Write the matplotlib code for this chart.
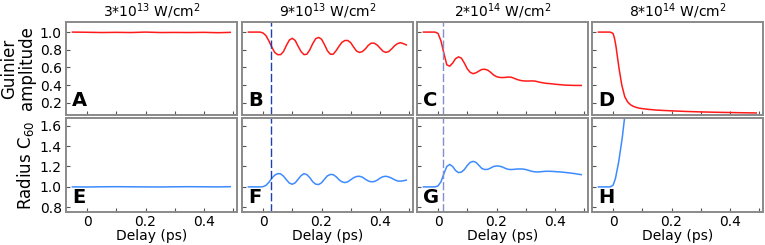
import matplotlib.pyplot as plt

# ---- data ----
titles = ['3*10$^{13}$ W/cm$^{2}$', '9*10$^{13}$ W/cm$^{2}$',
          '2*10$^{14}$ W/cm$^{2}$', '8*10$^{14}$ W/cm$^{2}$']
letters_top = ['A', 'B', 'C', 'D']
letters_bot = ['E', 'F', 'G', 'H']

# sparse delay grid for the flat 3e13 panel
delay_flat = [-0.05, 0.0, 0.05, 0.10, 0.15, 0.20, 0.25, 0.30, 0.35, 0.40, 0.45, 0.49]
guinier_A = [1.0, 0.998, 0.995, 0.997, 0.995, 1.0, 0.995, 0.996, 0.995, 0.997, 0.993, 0.997]
radius_E = [1.0, 0.999, 1.001, 1.002, 1.001, 1.0, 0.999, 1.001, 1.002, 1.001, 1.0, 1.002]

# dense delay grid (10 fs steps) for the oscillating panels
delay = [-0.05, -0.04, -0.03, -0.02, -0.01, 0.00, 0.01, 0.02, 0.03, 0.04,
         0.05, 0.06, 0.07, 0.08, 0.09, 0.10, 0.11, 0.12, 0.13, 0.14,
         0.15, 0.16, 0.17, 0.18, 0.19, 0.20, 0.21, 0.22, 0.23, 0.24,
         0.25, 0.26, 0.27, 0.28, 0.29, 0.30, 0.31, 0.32, 0.33, 0.34,
         0.35, 0.36, 0.37, 0.38, 0.39, 0.40, 0.41, 0.42, 0.43, 0.44,
         0.45, 0.46, 0.47, 0.48, 0.49]

guinier_B = [1.0, 1.0, 1.0, 1.0, 1.0, 0.99, 0.96, 0.90, 0.83, 0.77,
             0.745, 0.745, 0.78, 0.85, 0.91, 0.93, 0.905, 0.84, 0.78, 0.745,
             0.75, 0.80, 0.87, 0.925, 0.94, 0.92, 0.86, 0.79, 0.75, 0.75,
             0.79, 0.84, 0.885, 0.905, 0.905, 0.88, 0.83, 0.785, 0.77, 0.78,
             0.81, 0.85, 0.875, 0.875, 0.855, 0.82, 0.785, 0.77, 0.78, 0.81,
             0.845, 0.87, 0.88, 0.87, 0.855]

radius_F = [1.0, 1.0, 1.0, 1.0, 1.0, 1.002, 1.015, 1.045, 1.085, 1.115,
            1.13, 1.128, 1.105, 1.07, 1.037, 1.026, 1.04, 1.075, 1.11, 1.13,
            1.12, 1.09, 1.05, 1.027, 1.023, 1.04, 1.075, 1.108, 1.122, 1.12,
            1.10, 1.07, 1.05, 1.042, 1.05, 1.07, 1.09, 1.102, 1.104, 1.095,
            1.075, 1.058, 1.05, 1.052, 1.065, 1.085, 1.10, 1.104, 1.098, 1.085,
            1.07, 1.058, 1.056, 1.06, 1.066]

guinier_C = [1.0, 1.0, 1.0, 1.0, 1.0, 0.985, 0.90, 0.76, 0.63, 0.615,
             0.65, 0.70, 0.72, 0.705, 0.65, 0.585, 0.545, 0.53, 0.54, 0.56,
             0.578, 0.58, 0.57, 0.545, 0.515, 0.497, 0.488, 0.486, 0.488, 0.492,
             0.49, 0.478, 0.465, 0.455, 0.449, 0.447, 0.447, 0.448, 0.447, 0.44,
             0.432, 0.426, 0.421, 0.418, 0.415, 0.411, 0.408, 0.405, 0.402, 0.40,
             0.399, 0.398, 0.397, 0.397, 0.397]

radius_G = [1.0, 1.0, 1.0, 1.0, 1.0, 1.01, 1.05, 1.13, 1.20, 1.22,
            1.20, 1.16, 1.14, 1.145, 1.17, 1.21, 1.24, 1.25, 1.24, 1.21,
            1.18, 1.17, 1.172, 1.185, 1.20, 1.205, 1.203, 1.195, 1.182, 1.172,
            1.17, 1.172, 1.175, 1.176, 1.175, 1.17, 1.162, 1.153, 1.148, 1.146,
            1.148, 1.151, 1.153, 1.153, 1.152, 1.15, 1.148, 1.146, 1.143, 1.14,
            1.137, 1.133, 1.129, 1.124, 1.12]

# 8e14 panels
delay_D = [-0.05, -0.03, -0.01, 0.0, 0.005, 0.01, 0.02, 0.03, 0.04, 0.05,
           0.06, 0.07, 0.08, 0.09, 0.10, 0.12, 0.15, 0.20, 0.25, 0.30,
           0.35, 0.40, 0.45, 0.49]
guinier_D = [1.0, 1.0, 1.0, 0.985, 0.93, 0.84, 0.60, 0.40, 0.27, 0.21,
             0.178, 0.16, 0.148, 0.14, 0.135, 0.127, 0.118, 0.11, 0.103, 0.098,
             0.094, 0.091, 0.088, 0.086]
delay_H = [-0.05, -0.03, -0.01, 0.0, 0.008, 0.019, 0.031, 0.039, 0.05]
radius_H = [1.0, 1.0, 1.0, 1.016, 1.08, 1.24, 1.47, 1.665, 1.93]

# pump arrival markers (dashed lines)
t0_B = 0.026
t0_C = 0.017

# ---- figure ----
plt.rcParams['font.family'] = 'DejaVu Sans'
fig = plt.figure(figsize=(7.65, 2.45), dpi=100)

W, H = 765.0, 245.0
lefts = [66, 242, 417, 592]
width = 171
top_row = (22, 115)
bot_row = (118, 212)

red = '#ff1a1a'
blue = '#3d8bff'
frame = '#8a8a8a'


def make_ax(left, rows):
    y0, y1 = rows
    ax = fig.add_axes([left / W, 1 - y1 / H, width / W, (y1 - y0) / H])
    for s in ax.spines.values():
        s.set_color(frame)
        s.set_linewidth(1.4)
    ax.tick_params(direction='in', length=3, width=0.8, color='#555555',
                   labelsize=10, pad=3)
    ax.tick_params(axis='x', pad=2)
    ax.set_xlim(-0.072, 0.513)
    ax.set_xticks([0, 0.1, 0.2, 0.3, 0.4, 0.5])
    ax.set_xticklabels(['0', '', '0.2', '', '0.4', ''])
    return ax


top_data = [(delay_flat, guinier_A), (delay, guinier_B), (delay, guinier_C), (delay_D, guinier_D)]
bot_data = [(delay_flat, radius_E), (delay, radius_F), (delay, radius_G), (delay_H, radius_H)]

for i in range(4):
    ax = make_ax(lefts[i], top_row)
    ax.plot(top_data[i][0], top_data[i][1], color=red, lw=1.1)
    ax.set_ylim(0.063, 1.114)
    ax.set_yticks([0.2, 0.4, 0.6, 0.8, 1.0])
    ax.set_xticklabels([])
    if i > 0:
        ax.set_yticklabels([])
    ax.set_title(titles[i], fontsize=10, pad=4)
    ax.text(0.035, 0.05, letters_top[i], transform=ax.transAxes,
            fontsize=14, fontweight='bold', ha='left', va='bottom')
    if i == 1:
        ax.axvline(t0_B, color='#2040b0', lw=1.0, ls=(0, (6, 2)))
    if i == 2:
        ax.axvline(t0_C, color='#8090cc', lw=1.0, ls=(0, (6, 2)))
    if i == 0:
        ax.set_ylabel('Guinier\namplitude', fontsize=12, labelpad=3, linespacing=1.0)

    bx = make_ax(lefts[i], bot_row)
    bx.plot(bot_data[i][0], bot_data[i][1], color=blue, lw=1.1)
    bx.set_ylim(0.754, 1.675)
    bx.set_yticks([0.8, 1.0, 1.2, 1.4, 1.6])
    if i > 0:
        bx.set_yticklabels([])
    bx.set_xlabel('Delay (ps)', fontsize=10, labelpad=0)
    bx.text(0.035, 0.05, letters_bot[i], transform=bx.transAxes,
            fontsize=14, fontweight='bold', ha='left', va='bottom')
    if i == 1:
        bx.axvline(t0_B, color='#2040b0', lw=1.0, ls=(0, (6, 2)))
    if i == 2:
        bx.axvline(t0_C, color='#8090cc', lw=1.0, ls=(0, (6, 2)))
    if i == 0:
        bx.set_ylabel('Radius C$_{60}$', fontsize=12, labelpad=3)

fig.savefig('out.png', dpi=100)
